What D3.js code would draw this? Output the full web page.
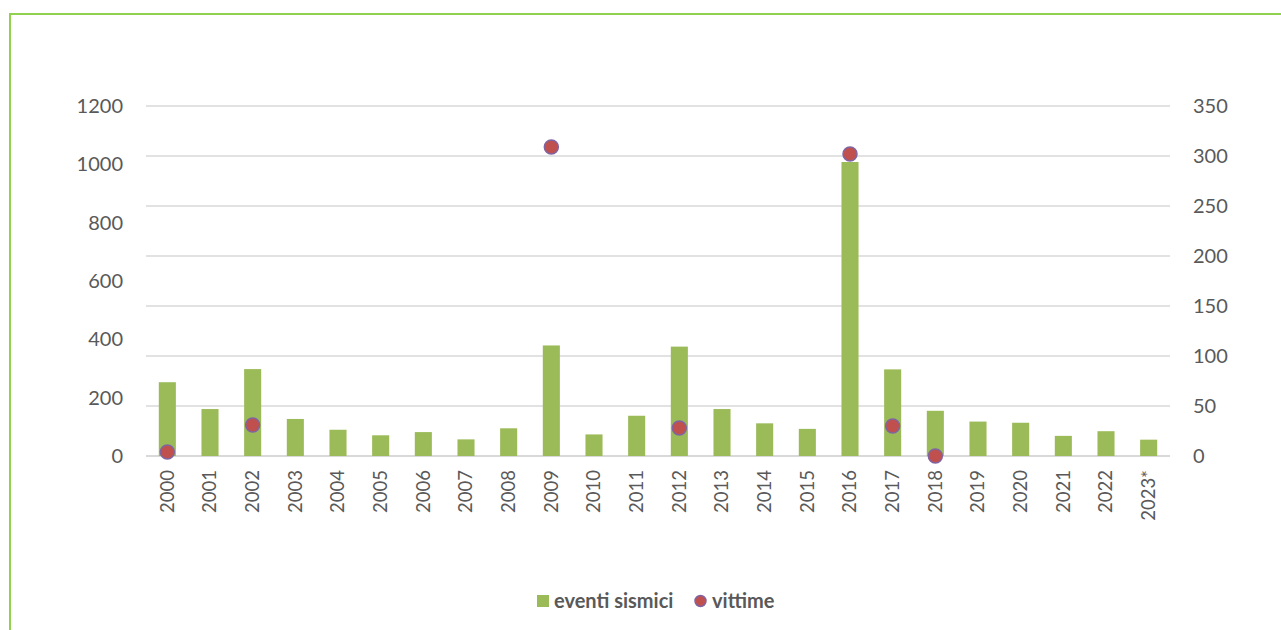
<!DOCTYPE html>
<html><head><meta charset="utf-8">
<script src="https://cdn.jsdelivr.net/npm/d3@7"></script>
<style>
html,body{margin:0;padding:0;background:#fff;overflow:hidden}
svg{display:block;font-family:Lato,"Open Sans",sans-serif}
</style></head>
<body>
<svg id="chart" width="1281" height="630"></svg>
<script>
const years = ["2000","2001","2002","2003","2004","2005","2006","2007","2008","2009","2010","2011","2012","2013","2014","2015","2016","2017","2018","2019","2020","2021","2022","2023*"];
const eventiSismici = [253,161,298,127,90,71,82,57,95,379,74,138,375,161,112,93,1008,297,155,118,114,69,85,56];
const vittime = [4,null,31,null,null,null,null,null,null,309,null,null,28,null,null,null,302,30,0,null,null,null,null,null];
const leftTicks = [0,200,400,600,800,1000,1200];
const rightTicks = [0,50,100,150,200,250,300,350];
const seriesNames = ["eventi sismici","vittime"];

const svg = d3.select("#chart");
const W = 1281, H = 630;
const plot = {left:146, right:1170, top:106, bottom:456};
const textColor = "#595959";

// border
svg.append("rect").attr("x",10).attr("y",14).attr("width",W).attr("height",H)
  .attr("fill","none").attr("stroke","#92D050").attr("stroke-width",2);

const x = d3.scaleBand().domain(years).range([plot.left, plot.right]).paddingInner(0.6).paddingOuter(0.3);
const yL = d3.scaleLinear().domain([0,1200]).range([plot.bottom, plot.top]);
const yR = d3.scaleLinear().domain([0,350]).range([plot.bottom, plot.top]);

// gridlines (from right axis)
svg.append("g").selectAll("line").data(rightTicks).join("line")
  .attr("x1",plot.left).attr("x2",plot.right)
  .attr("y1",d=>yR(d)).attr("y2",d=>yR(d))
  .attr("stroke","#D9D9D9").attr("stroke-width",d=>d===0?2:1.3);

// left axis
const gl = svg.append("g").attr("transform",`translate(${plot.left-23},0)`)
  .call(d3.axisLeft(yL).tickValues(leftTicks).tickSize(0).tickPadding(0).tickFormat(d3.format("d")));
gl.select(".domain").remove();
gl.selectAll("text").attr("fill",textColor).style("font-size","20px").attr("font-family","Lato");

// right axis
const gr = svg.append("g").attr("transform",`translate(${plot.right+23},0)`)
  .call(d3.axisRight(yR).tickValues(rightTicks).tickSize(0).tickPadding(0).tickFormat(d3.format("d")));
gr.select(".domain").remove();
gr.selectAll("text").attr("fill",textColor).style("font-size","20px").attr("font-family","Lato");

// bars
svg.append("g").selectAll("rect").data(years.map((y,i)=>({y,v:eventiSismici[i]}))).join("rect")
  .attr("x",d=>x(d.y)).attr("width",x.bandwidth())
  .attr("y",d=>yL(d.v)).attr("height",d=>plot.bottom-yL(d.v))
  .attr("fill","#9BBB59");

// x labels
const gx = svg.append("g").attr("transform",`translate(0,${plot.bottom+14})`)
  .call(d3.axisBottom(x).tickSize(0).tickPadding(0));
gx.select(".domain").remove();
gx.selectAll("text").attr("fill",textColor).style("font-size","18.5px").attr("font-family","Lato")
  .attr("transform","rotate(-90)").attr("text-anchor","end").attr("dy","0.35em").attr("x",0).attr("y",0);

// markers
svg.append("g").selectAll("circle")
  .data(years.map((y,i)=>({y,v:vittime[i]})).filter(d=>d.v!==null)).join("circle")
  .attr("cx",d=>x(d.y)+x.bandwidth()/2).attr("cy",d=>yR(d.v)).attr("r",7)
  .attr("fill","#C0504D").attr("stroke","#8064A2").attr("stroke-width",1.5);

// legend
const lg = svg.append("g").attr("font-family","Lato").attr("font-weight","bold").style("font-size","20px").attr("fill",textColor);
lg.append("rect").attr("x",537).attr("y",595).attr("width",12).attr("height",12).attr("fill","#9BBB59");
lg.append("text").attr("x",554).attr("y",601).attr("dy","0.35em").text(seriesNames[0]);
lg.append("circle").attr("cx",700.5).attr("cy",601).attr("r",5.5).attr("fill","#C0504D").attr("stroke","#8064A2").attr("stroke-width",1.5);
lg.append("text").attr("x",712).attr("y",601).attr("dy","0.35em").text(seriesNames[1]);
</script>
</body></html>
